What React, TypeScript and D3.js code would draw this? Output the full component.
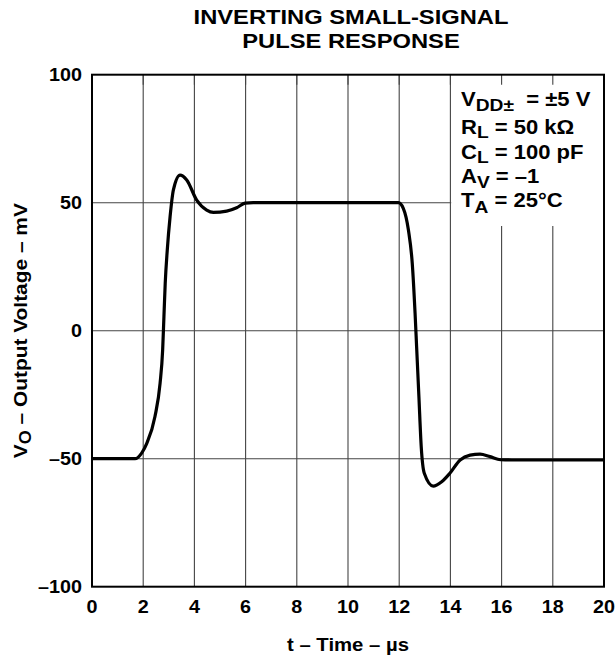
import React from "react";
import * as d3 from "d3";

const xTicks = [0, 2, 4, 6, 8, 10, 12, 14, 16, 18, 20];
const yTicks = [100, 50, 0, -50, -100];
const yTickLabels = ["100", "50", "0", "\u201350", "\u2013100"];

const timeUs = [
  0, 1.68, 1.94, 2.14, 2.46, 2.66, 2.76, 2.81, 2.86, 2.94, 3.05, 3.18, 3.44, 3.7, 4.09, 4.48, 4.74,
  5.26, 5.65, 5.98, 6.3, 11.6, 11.97, 12.16, 12.36, 12.51, 12.62, 12.68, 12.77, 12.86, 12.98, 13.33,
  13.66, 13.98, 14.38, 14.77, 15.16, 15.55, 15.96, 16.4, 20,
];
const outputMv = [
  -50, -50, -47.8, -44, -33.5, -20.5, -7.5, 5.5, 18.5, 31.5, 44.5, 55, 60.8, 58.9, 51, 47.1, 46.2,
  46.7, 48, 49.8, 50, 50, 50, 47.8, 39.3, 26.3, 6.8, -6.2, -25.8, -45.3, -55.7, -60.7,
  -59, -55.7, -50.5, -48.6, -48.2, -49.2, -50.4, -50.5, -50.5,
];

const W = 615;
const H = 656;
const left = 92;
const right = 604;
const top = 74.7;
const bottom = 586.7;
const SX = 1.13;
const FONT = "'Liberation Sans', Arial, Helvetica, sans-serif";

function Txt({ x, y, size, anchor = "start", rotate = 0, children }: any) {
  return (
    <g transform={`translate(${x},${y}) rotate(${rotate}) scale(${SX},1)`}>
      <text
        x={0}
        y={0}
        textAnchor={anchor}
        fontSize={size}
        fontWeight="bold"
        fontFamily={FONT}
        fill="#000"
        style={{ whiteSpace: "pre" }}
      >
        {children}
      </text>
    </g>
  );
}

export default function App() {
  const x = d3.scaleLinear().domain([0, 20]).range([left, right]);
  const y = d3.scaleLinear().domain([-100, 100]).range([bottom, top]);
  const pts: [number, number][] = timeUs.map((t, i) => [t, outputMv[i]]);
  const line = d3
    .line<[number, number]>()
    .x((d) => x(d[0]))
    .y((d) => y(d[1]))
    .curve(d3.curveMonotoneX);

  const legX = 461;
  const legBase = [106, 134, 159, 183, 207];
  const sub = 17;
  const main = 19.5;

  return (
    <svg width={W} height={H} style={{ position: "absolute", left: 0, top: 0, background: "#fff" }}>
      <rect x={0} y={0} width={W} height={H} fill="#fff" />
      {/* title */}
      <Txt x={351} y={23.5} size={21} anchor="middle">INVERTING SMALL-SIGNAL</Txt>
      <Txt x={351} y={48} size={21} anchor="middle">PULSE RESPONSE</Txt>

      {/* grid */}
      {xTicks.slice(1, -1).map((t) => (
        <line key={"gx" + t} x1={x(t)} x2={x(t)} y1={top} y2={bottom} stroke="#444" strokeWidth={1.1} />
      ))}
      {yTicks.slice(1, -1).map((v) => (
        <line key={"gy" + v} x1={left} x2={right} y1={y(v)} y2={y(v)} stroke="#444" strokeWidth={1.1} />
      ))}

      {/* legend box */}
      <rect x={x(14) + 0.8} y={top} width={right - x(14) - 0.8} height={226 - top} fill="#fff" />
      {xTicks.slice(1, -1).map((t) => (
        <line key={"tk" + t} x1={x(t)} x2={x(t)} y1={top} y2={top + 10} stroke="#444" strokeWidth={1.1} />
      ))}

      {/* curve */}
      <path d={line(pts) || ""} fill="none" stroke="#000" strokeWidth={3.2} strokeLinejoin="round" />

      {/* frame */}
      <rect x={left} y={top} width={right - left} height={bottom - top} fill="none" stroke="#000" strokeWidth={2} />

      {/* y tick labels */}
      {yTicks.map((v, i) => (
        <Txt key={"yl" + v} x={82} y={y(v) + 6.2} size={17.5} anchor="end">
          {yTickLabels[i]}
        </Txt>
      ))}
      {/* x tick labels */}
      {xTicks.map((t) => (
        <Txt key={"xl" + t} x={x(t)} y={612.5} size={17.5} anchor="middle">
          {String(t)}
        </Txt>
      ))}

      {/* axis titles */}
      <Txt x={348} y={651} size={18} anchor="middle">
        {"t \u2013 Time \u2013 \u00b5s"}
      </Txt>
      <g transform={`translate(26.5,${(top + bottom) / 2}) rotate(-90) scale(${SX},1)`}>
        <text textAnchor="middle" fontSize={18.5} fontWeight="bold" fontFamily={FONT} style={{ whiteSpace: "pre" }}>
          <tspan>V</tspan>
          <tspan dy={4} fontSize={16}>O</tspan>
          <tspan dy={-4}>{" \u2013 Output Voltage \u2013 mV"}</tspan>
        </text>
      </g>

      {/* legend */}
      <g transform={`translate(${legX},0) scale(${SX},1)`} fontFamily={FONT} fontWeight="bold" fontSize={main}>
        <text x={0} y={legBase[0]} style={{ whiteSpace: "pre" }}>
          <tspan>V</tspan>
          <tspan dy={5.5} fontSize={sub}>{"DD\u00b1"}</tspan>
          <tspan dy={-5.5}>{"  = \u00b15 V"}</tspan>
        </text>
        <text x={0} y={legBase[1]} style={{ whiteSpace: "pre" }}>
          <tspan>R</tspan>
          <tspan dy={4.5} fontSize={sub}>L</tspan>
          <tspan dy={-4.5}>{" = 50 k\u03a9"}</tspan>
        </text>
        <text x={0} y={legBase[2]} style={{ whiteSpace: "pre" }}>
          <tspan>C</tspan>
          <tspan dy={4.5} fontSize={sub}>L</tspan>
          <tspan dy={-4.5}>{" = 100 pF"}</tspan>
        </text>
        <text x={0} y={legBase[3]} style={{ whiteSpace: "pre" }}>
          <tspan>A</tspan>
          <tspan dy={5} fontSize={sub}>V</tspan>
          <tspan dy={-5}>{" = \u20131"}</tspan>
        </text>
        <text x={0} y={legBase[4]} style={{ whiteSpace: "pre" }}>
          <tspan>T</tspan>
          <tspan dy={6} fontSize={sub}>A</tspan>
          <tspan dy={-6}>{" = 25\u00b0C"}</tspan>
        </text>
      </g>
    </svg>
  );
}
